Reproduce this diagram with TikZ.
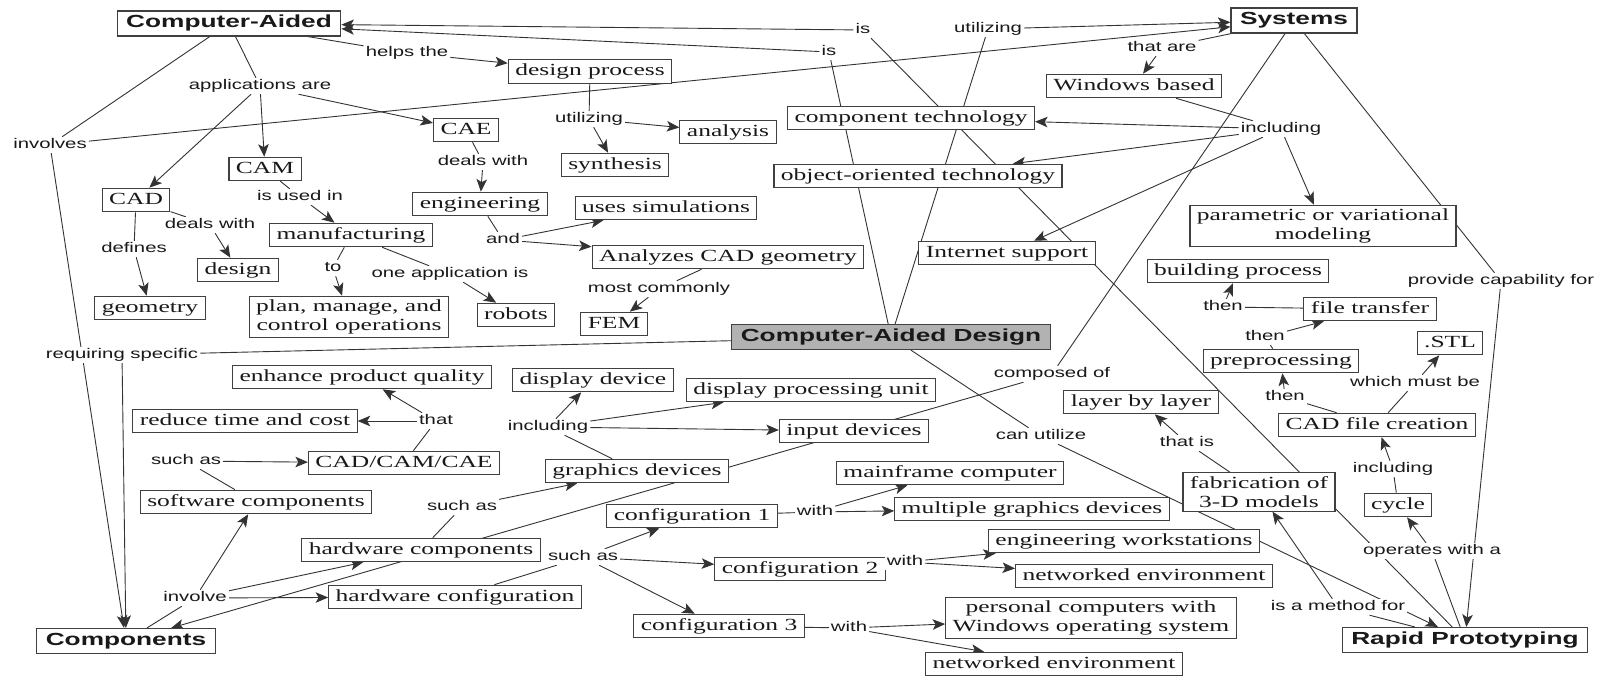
\documentclass[tikz,border=0pt]{standalone}
\usepackage{fontspec}
\setmainfont{Liberation Serif}[FakeStretch=1.5]
\newfontfamily\labfont{Liberation Sans}[FakeStretch=1.45]
\newfontfamily\bigfont{Liberation Sans}[FakeStretch=1.5]
\usetikzlibrary{arrows.meta}
\pgfdeclarelayer{bg}
\pgfdeclarelayer{edges}
\pgfsetlayers{bg,edges,main}
\tikzset{
  box/.style={draw=black!75, line width=1.1pt, fill=white, text=black!90,
    font=\fontsize{17}{19}\selectfont, inner xsep=7pt, inner ysep=4pt,
    text height=12pt, text depth=3.5pt},
  boxtwo/.style={draw=black!75, line width=1.1pt, fill=white, text=black!90,
    font=\fontsize{17}{19}\selectfont, inner xsep=7pt, inner ysep=3.5pt, align=center},
  bigbox/.style={box, font=\bigfont\bfseries\fontsize{17.5}{20}\selectfont,
    text height=13pt, text depth=4pt, inner xsep=9pt},
  lab/.style={fill=white, text=black!90, font=\labfont\fontsize{14}{16}\selectfont,
    inner xsep=2pt, inner ysep=1.5pt, text height=10pt, text depth=3pt},
  ln/.style={draw=black!80, line width=0.9pt},
  ar/.style={ln, -{Stealth[length=12.5pt,width=10.5pt,inset=3pt]}},
}
\begin{document}
\begin{tikzpicture}[x=1pt,y=-1pt]
\useasboundingbox (0,0) rectangle (1598,676);
\begin{pgfonlayer}{bg}
\fill[white] (0,0) rectangle (1598,676);
\end{pgfonlayer}
% concept boxes
\node[bigbox] (ca) at (229,23.5) {Computer-Aided};
\node[bigbox] (sys) at (1294,20.5) {Systems};
\node[bigbox, fill=gray!60] (main) at (891,337) {Computer-Aided Design};
\node[bigbox] (comp) at (126,641) {Components};
\node[bigbox] (rp) at (1465,640) {Rapid Prototyping};
\node[box] (dp) at (590,71.5) {design process};
\node[box] (cae) at (466,130) {CAE};
\node[box] (cam) at (265,169) {CAM};
\node[box] (cad) at (136,200) {CAD};
\node[box] (ana) at (728,132) {analysis};
\node[box] (syn) at (615,165) {synthesis};
\node[box] (eng) at (480,204) {engineering};
\node[box] (usim) at (666,208) {uses simulations};
\node[box] (ct) at (911,118) {component technology};
\node[box] (oot) at (918,176) {object-oriented technology};
\node[box] (wb) at (1134,86) {Windows based};
\node[boxtwo] (pvm) at (1323,226) {parametric or variational\\modeling};
\node[box] (mfg) at (351,235) {manufacturing};
\node[box] (des) at (238,270) {design};
\node[box] (geo) at (150,308) {geometry};
\node[boxtwo] (plan) at (349,317) {plan, manage, and\\control operations};
\node[box] (rob) at (516,315) {robots};
\node[box] (acg) at (728,257) {Analyzes CAD geometry};
\node[box] (fem) at (614,324) {FEM};
\node[box] (inet) at (1007,253) {Internet support};
\node[box] (bp) at (1238,271) {building process};
\node[box] (ft) at (1370,309) {file transfer};
\node[box] (stl) at (1450,343) {.STL};
\node[box] (pre) at (1281,361) {preprocessing};
\node[box] (cfc) at (1377,425) {CAD file creation};
\node[box] (lbl) at (1141,402) {layer by layer};
\node[boxtwo] (fab) at (1259,492) {fabrication of\\3-D models};
\node[box] (cyc) at (1398,505) {cycle};
\node[box] (epq) at (362,377) {enhance product quality};
\node[box] (rtc) at (245,421) {reduce time and cost};
\node[box] (dd) at (593,380) {display device};
\node[box] (dpu) at (811,390) {display processing unit};
\node[box] (inp) at (854,431) {input devices};
\node[box] (ccc) at (404,463) {CAD/CAM/CAE};
\node[box] (gd) at (637,471) {graphics devices};
\node[box] (swc) at (256,502) {software components};
\node[box] (mf) at (950,473) {mainframe computer};
\node[box] (mgd) at (1032,509) {multiple graphics devices};
\node[box] (c1) at (692,516) {configuration 1};
\node[box] (hwc) at (421,550) {hardware components};
\node[box] (ew) at (1124,541) {engineering workstations};
\node[box] (c2) at (800,569) {configuration 2};
\node[box] (ne1) at (1144,576) {networked environment};
\node[box] (hwconf) at (455,597) {hardware configuration};
\node[box] (c3) at (719,626) {configuration 3};
\node[boxtwo] (pc) at (1091,618) {personal computers with\\Windows operating system};
\node[box] (ne2) at (1054,664) {networked environment};
% link labels
\node[lab] (lIsA) at (863,30) {is};
\node[lab] (lIsB) at (829,52) {is};
\node[lab] (lUtA) at (988,29) {utilizing};
\node[lab] (lThatAre) at (1162,48) {that are};
\node[lab] (lHelps) at (407,53) {helps the};
\node[lab] (lApp) at (260,86) {applications are};
\node[lab] (lInv) at (50,145) {involves};
\node[lab] (lUtB) at (589,119) {utilizing};
\node[lab] (lDealA) at (483,162) {deals with};
\node[lab] (lInclA) at (1281,129) {including};
\node[lab] (lUsed) at (300,197) {is used in};
\node[lab] (lDealB) at (210,225) {deals with};
\node[lab] (lDef) at (134,249) {defines};
\node[lab] (lTo) at (333,268) {to};
\node[lab] (lOneApp) at (450,274) {one application is};
\node[lab] (lAnd) at (503,240) {and};
\node[lab] (lMost) at (659,289) {most commonly};
\node[lab] (lThenA) at (1223,307) {then};
\node[lab] (lThenB) at (1265,337) {then};
\node[lab] (lThenC) at (1285,397) {then};
\node[lab] (lWhich) at (1415,383) {which must be};
\node[lab] (lProv) at (1501,281) {provide capability for};
\node[lab] (lComp) at (1052,374) {composed of};
\node[lab] (lCan) at (1041,436) {can utilize};
\node[lab] (lThatIs) at (1187,443) {that is};
\node[lab] (lInclB) at (1393,469) {including};
\node[lab] (lOper) at (1432,551) {operates with a};
\node[lab] (lMeth) at (1338,607) {is a method for};
\node[lab] (lReq) at (122,355) {requiring specific};
\node[lab] (lThat) at (436,421) {that};
\node[lab] (lInclC) at (548,427) {including};
\node[lab] (lSuchA) at (186,461) {such as};
\node[lab] (lSuchB) at (462,507) {such as};
\node[lab] (lInvolve) at (195,598) {involve};
\node[lab] (lSuchC) at (583,557) {such as};
\node[lab] (lWithA) at (815,512) {with};
\node[lab] (lWithB) at (905,562) {with};
\node[lab] (lWithC) at (849,628) {with};
% connectors
\begin{pgfonlayer}{edges}
\draw[ln] (ca) -- (lHelps); \draw[ar] (lHelps) -- (dp);
\draw[ln] (ca) -- (lApp);
\draw[ar] (lApp) -- (cad); \draw[ar] (lApp) -- (cam); \draw[ar] (lApp) -- (cae);
\draw[ln] (ca) -- (lInv);
\draw[ar] (lInv) -- (comp); \draw[ar] (lInv) -- (sys);
\draw[ln] (rp) -- (lIsA); \draw[ar] (lIsA) -- (ca);
\draw[ln] (main) -- (lIsB); \draw[ar] (lIsB) -- (ca);
\draw[ln] (main) -- (lUtA); \draw[ar] (lUtA) -- (sys);
\draw[ln] (sys) -- (lThatAre); \draw[ar] (lThatAre) -- (wb);
\draw[ln] (wb) -- (lInclA);
\draw[ar] (lInclA) -- (ct); \draw[ar] (lInclA) -- (oot);
\draw[ar] (lInclA) -- (inet); \draw[ar] (lInclA) -- (pvm);
\draw[ln] (sys) -- (lComp); \draw[ar] (lComp) -- (comp);
\draw[ln] (sys) -- (lProv); \draw[ar] (lProv) -- (rp);
\draw[ln] (dp) -- (lUtB); \draw[ar] (lUtB) -- (ana); \draw[ar] (lUtB) -- (syn);
\draw[ln] (cae) -- (lDealA); \draw[ar] (lDealA) -- (eng);
\draw[ln] (eng) -- (lAnd); \draw[ar] (lAnd) -- (usim); \draw[ar] (lAnd) -- (acg);
\draw[ln] (acg) -- (lMost); \draw[ar] (lMost) -- (fem);
\draw[ln] (cam) -- (lUsed); \draw[ar] (lUsed) -- (mfg);
\draw[ln] (cad) -- (lDealB); \draw[ar] (lDealB) -- (des);
\draw[ln] (cad) -- (lDef); \draw[ar] (lDef) -- (geo);
\draw[ln] (mfg) -- (lTo); \draw[ar] (lTo) -- (plan);
\draw[ln] (mfg) -- (lOneApp); \draw[ar] (lOneApp) -- (rob);
\draw[ln] (main) -- (lReq); \draw[ar] (lReq) -- (comp);
\draw[ln] (main) -- (lCan); \draw[ar] (lCan) -- (rp);
\draw[ln] (rp) -- (lMeth); \draw[ar] (lMeth) -- (fab);
\draw[ln] (fab) -- (lThatIs); \draw[ar] (lThatIs) -- (lbl);
\draw[ln] (rp) -- (lOper); \draw[ar] (lOper) -- (cyc);
\draw[ln] (cyc) -- (lInclB); \draw[ar] (lInclB) -- (cfc);
\draw[ln] (cfc) -- (lWhich); \draw[ar] (lWhich) -- (stl);
\draw[ln] (cfc) -- (lThenC); \draw[ar] (lThenC) -- (pre);
\draw[ln] (pre) -- (lThenB); \draw[ar] (lThenB) -- (ft);
\draw[ln] (ft) -- (lThenA); \draw[ar] (lThenA) -- (bp);
\draw[ln] (comp) -- (lInvolve);
\draw[ar] (lInvolve) -- (swc); \draw[ar] (lInvolve) -- (hwc); \draw[ar] (lInvolve) -- (hwconf);
\draw[ln] (swc) -- (lSuchA); \draw[ar] (lSuchA) -- (ccc);
\draw[ln] (ccc) -- (lThat); \draw[ar] (lThat) -- (epq); \draw[ar] (lThat) -- (rtc);
\draw[ln] (hwc) -- (lSuchB); \draw[ar] (lSuchB) -- (gd);
\draw[ln] (gd) -- (lInclC);
\draw[ar] (lInclC) -- (dd); \draw[ar] (lInclC) -- (dpu); \draw[ar] (lInclC) -- (inp);
\draw[ln] (hwconf) -- (lSuchC);
\draw[ar] (lSuchC) -- (c1); \draw[ar] (lSuchC) -- (c2); \draw[ar] (lSuchC) -- (c3);
\draw[ln] (c1) -- (lWithA); \draw[ar] (lWithA) -- (mf); \draw[ar] (lWithA) -- (mgd);
\draw[ln] (c2) -- (lWithB); \draw[ar] (lWithB) -- (ew); \draw[ar] (lWithB) -- (ne1);
\draw[ln] (c3) -- (lWithC); \draw[ar] (lWithC) -- (pc); \draw[ar] (lWithC) -- (ne2);
\end{pgfonlayer}
\end{tikzpicture}
\end{document}
